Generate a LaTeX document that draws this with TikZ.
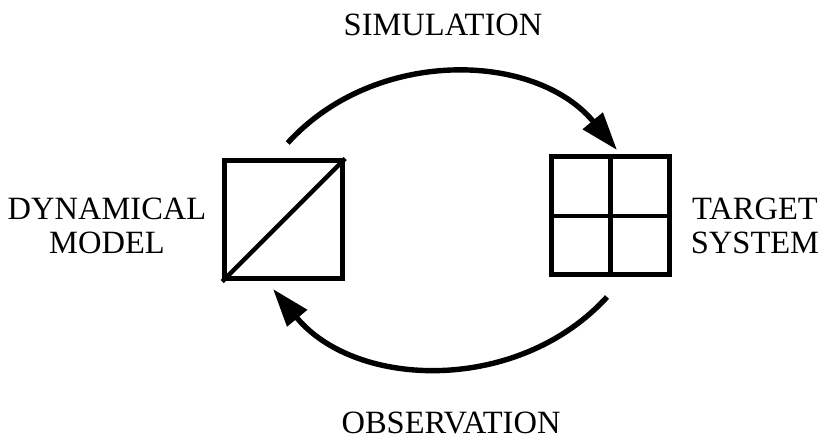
\documentclass[tikz,border=0pt]{standalone}
\usepackage{fontspec}
\setmainfont{Liberation Serif}
\usepackage{tikz}
\usetikzlibrary{arrows.meta,positioning,calc}
\tikzset{
  sqbox/.style={draw=black, line width=5pt, minimum size=118pt, inner sep=0pt},
  divl/.style={black, line width=4.5pt},
  cycarr/.style={-{Triangle[length=38pt, width=25pt]}, black, line width=5.4pt},
  lbl/.style={font=\fontsize{32.5}{34}\selectfont, align=center, inner sep=0pt},
}

\begin{document}
\begin{tikzpicture}[x=1pt, y=1pt]
    \useasboundingbox (0,0) rectangle (822,442);
    \node[sqbox] (model) at (283.7,222) {};
    \node[sqbox] (target) at (610.5,226) {};
    \draw[divl] (model.south west) -- (model.north east);
    \draw[divl] (target.north) -- (target.south);
    \draw[divl] (target.west) -- (target.east);
    \node[lbl, anchor=base] (simlab) at (443,406) {SIMULATION};
    \node[lbl, anchor=base] (obslab) at (451,9) {OBSERVATION};
    \node[lbl] (modlab) at (107,216) {DYNAMICAL\\MODEL};
    \node[lbl] (tgtlab) at (755,216) {TARGET\\SYSTEM};
    \coordinate (simfrom) at ($(model.north)+(4,15.5)$);
    \coordinate (simto) at ($(target.north)+(6.5,4.5)$);
    \coordinate (obsfrom) at ($(target.south)+(-3.5,-19.5)$);
    \coordinate (obsto) at ($(model.south)+(-10.7,-7.5)$);
    \draw[cycarr] (simfrom) to[bend left=49] (simto);
    \draw[cycarr] (obsfrom) to[bend left=49] (obsto);
  \end{tikzpicture}
\end{document}
